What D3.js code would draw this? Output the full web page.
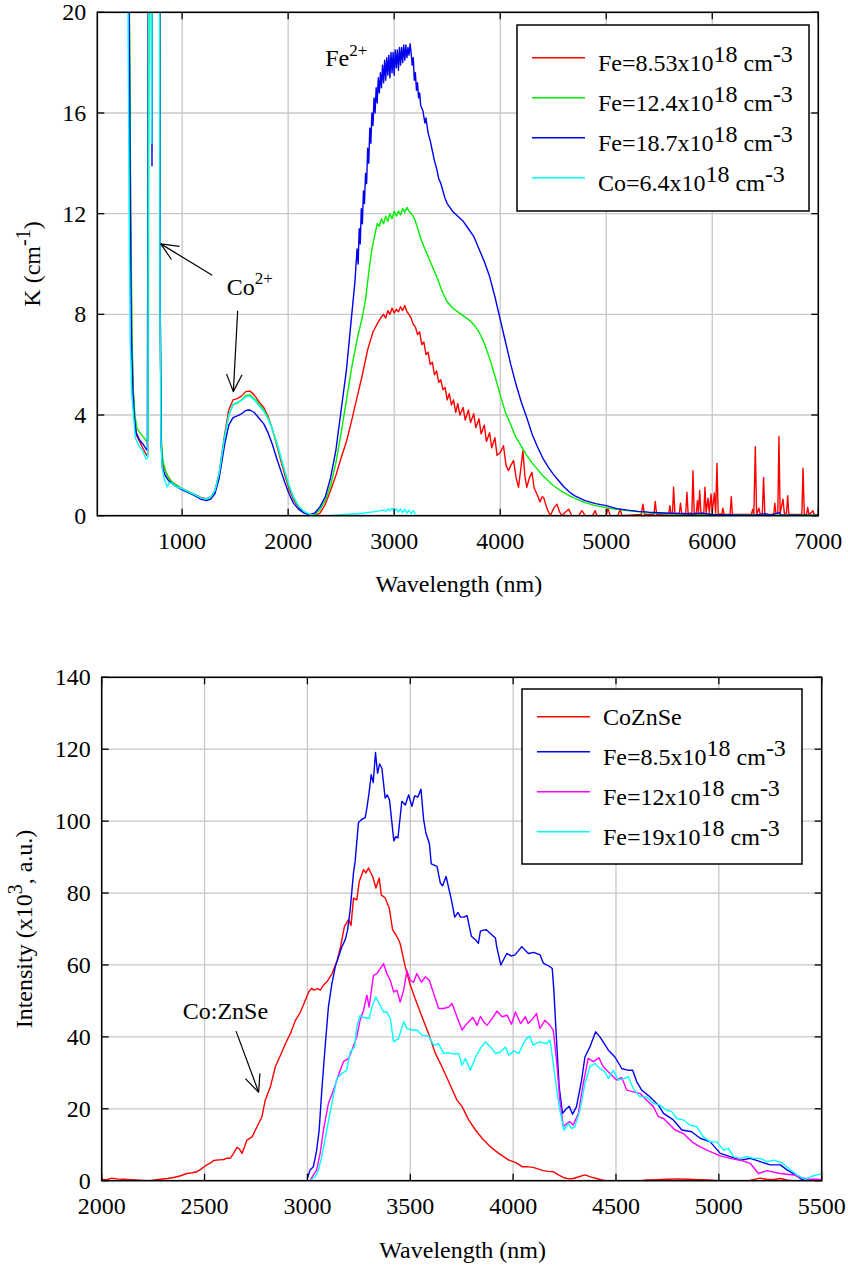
<!DOCTYPE html>
<html>
<head>
<meta charset="utf-8">
<script src="https://cdn.jsdelivr.net/npm/d3@7/dist/d3.min.js"></script>
<style>
html,body{margin:0;padding:0;background:#fff;}
svg{display:block;}
svg text{font-family:"Liberation Serif","DejaVu Serif","Noto Serif","Times New Roman",serif;}
</style>
</head>
<body>
<svg id="chart" width="848" height="1268"></svg>
<script>
// ---------------- DATA: top panel (absorption K, cm^-1 vs wavelength nm) ----------------
const topXTicks = [1000, 2000, 3000, 4000, 5000, 6000, 7000];
const topYTicks = [0, 4, 8, 12, 16, 20];

const absFe853 = [[480,30],[502,20],[514,12],[525,7],[538,5],[552,3.9],[570,3.2],[610,2.85],[640,2.6],[665,2.4],[676,2.45],[686,30],[786,30],[794,8],[802,3.0],[815,2.1],[825,1.95],[835,1.85],[860,1.6],[900,1.35],[1000,1.07],
[1100,0.88],[1180,0.72],[1230,0.68],[1270,0.75],[1310,1.0],[1350,1.7],[1400,3.2],[1440,4.2],[1480,4.6],[1520,4.65],[1560,4.75],[1600,4.93],[1640,4.95],[1680,4.8],[1720,4.55],[1770,4.3],[1810,3.95],[1850,3.45],[1890,2.85],[1930,2.2],[1970,1.6],[2010,1.05],[2050,0.65],[2100,0.32],[2150,0.13],[2200,0.04],[2250,0.0],
[2300,0.1],[2350,0.45],[2400,1.0],[2450,1.6],[2500,2.3],[2550,2.95],[2600,3.8],[2650,4.7],[2700,5.6],[2750,6.6],[2800,7.3],[2850,7.7],[2880,7.9],[2900,8.0],[2920,7.85],[2940,8.15],[2960,8.0],[2980,8.25],[3000,8.05],[3020,8.2],[3040,8.1],[3060,8.3],[3080,8.15],[3100,8.35],[3120,8.1],[3140,8.0],[3160,7.85],[3180,7.6],[3200,7.5],[3220,7.2],[3240,7.3],[3260,6.8],[3280,6.9],[3300,6.4],[3320,6.5],[3340,6.0],[3360,6.1],[3380,5.6],[3400,5.75],[3420,5.3],[3440,5.4],[3460,5.0],[3480,5.1],[3500,4.6],[3520,4.85],[3540,4.4],[3560,4.6],[3580,4.1],[3600,4.45],[3620,4.0],[3650,4.3],[3670,3.8],[3700,4.2],[3720,3.7],[3750,4.05],[3770,3.5],[3800,3.85],[3820,3.25],[3850,3.6],[3870,2.95],[3900,3.3],[3920,2.7],[3950,3.1],[3970,2.4],[4000,2.5],[4031,2.78],[4055,2.0],[4078,1.79],[4100,2.0],[4126,2.19],[4150,1.5],[4173,1.13],[4195,1.9],[4214,2.58],[4232,1.6],[4251,1.13],[4275,1.5],[4299,1.72],[4320,1.1],[4346,0.86],[4375,0.55],[4395,0.75],[4409,0.73],[4440,0.3],[4472,0.0],[4505,0.3],[4535,0.46],[4560,0.15],[4582,0.0],[4615,0.15],[4645,0.26],[4676,0.0],[4740,0.0],[4770,0.2],[4802,0.0],[4870,0.0],[4896,0.2],[4912,0.0],[5000,0.0],[5016,0.29],[5038,0.0],[5110,0.0],[5132,0.26],[5148,0.0],[5330,0.05],[5346,0.46],[5360,0.05],[5450,0.05],[5462,0.57],[5475,0.05],[5590,0.08],[5600,0.4],[5612,0.06],[5625,0.08],[5635,1.13],[5648,0.08],[5690,0.1],[5700,0.5],[5712,0.08],[5750,0.1],[5761,0.93],[5772,0.1],[5808,0.1],[5818,1.79],[5830,0.1],[5850,0.1],[5860,0.6],[5870,0.1],[5881,1.0],[5893,0.1],[5920,0.1],[5931,1.13],[5942,0.12],[5960,0.7],[5972,0.1],[5988,0.86],[6000,0.15],[6020,0.9],[6032,0.1],[6044,2.08],[6056,0.08],[6090,0.06],[6100,0.3],[6112,0.05],[6168,0.05],[6179,0.75],[6190,0.05],[6370,0.05],[6380,0.25],[6392,0.05],[6406,2.74],[6418,0.05],[6440,0.3],[6452,0.05],[6472,0.06],[6484,1.52],[6496,0.05],[6580,0.05],[6590,0.5],[6600,0.1],[6618,0.08],[6629,3.15],[6640,0.1],[6667,0.66],[6680,0.08],[6700,0.1],[6711,0.79],[6722,0.05],[6845,0.05],[6856,1.89],[6868,0.05],[6890,0.06],[6900,0.33],[6912,0.04],[6950,0.2],[6962,0.03],[7000,0.03]];

const absFe124 = [[480,30],[503,20],[516,12],[528,7],[540,5],[555,4.0],[575,3.45],[610,3.25],[640,3.1],[665,2.95],[680,3.0],[692,30],[702,30],[712,17.4],[722,30],[786,30],[794,8],[802,3.2],[815,2.3],[830,2.0],[850,1.7],[880,1.45],[930,1.25],[1000,1.08],
[1100,0.88],[1180,0.7],[1230,0.66],[1270,0.73],[1310,0.98],[1350,1.65],[1400,3.1],[1440,4.0],[1480,4.4],[1520,4.47],[1560,4.6],[1600,4.78],[1640,4.8],[1680,4.65],[1720,4.45],[1770,4.2],[1810,3.9],[1850,3.45],[1890,2.9],[1930,2.3],[1970,1.7],[2010,1.15],[2050,0.72],[2100,0.36],[2150,0.15],[2200,0.05],[2250,0.03],
[2300,0.25],[2350,0.6],[2400,1.2],[2450,2.1],[2500,3.3],[2550,4.6],[2600,5.9],[2650,7.0],[2700,7.9],[2730,8.6],[2750,9.3],[2770,10.0],[2790,10.6],[2810,11.0],[2830,11.4],[2840,11.6],[2860,11.5],[2880,11.8],[2900,11.6],[2920,11.9],[2940,11.7],[2960,12.0],[2980,11.8],[3000,12.1],[3020,11.9],[3040,12.1],[3060,11.95],[3080,12.2],[3100,12.05],[3120,12.25],[3140,12.1],[3160,12.0],[3180,11.9],[3200,11.7],[3230,11.3],[3260,10.9],[3290,10.6],[3320,10.3],[3350,10.0],[3380,9.7],[3410,9.4],[3440,9.05],[3470,8.75],[3500,8.5],[3550,8.25],[3600,8.1],[3650,7.95],[3700,7.8],[3750,7.6],[3800,7.3],[3850,6.85],[3900,6.25],[3950,5.55],[4000,4.8],[4050,4.1],[4100,3.6],[4150,3.1],[4200,2.75],[4250,2.4],[4300,2.1],[4350,1.85],[4400,1.6],[4450,1.4],[4500,1.2],[4550,1.05],[4600,0.92],[4650,0.8],[4700,0.7],[4800,0.52],[4900,0.4],[5000,0.32],[5100,0.25],[5200,0.2],[5400,0.12],[5600,0.08],[5800,0.06],[6000,0.05],[6300,0.03],[6600,0.03],[7000,0.02]];

const absFe187 = [[480,30],[500,20],[512,12],[522,7],[535,5],[548,4.0],[565,3.3],[600,3.0],[630,2.85],[660,2.65],[672,2.6],[684,30],[706,30],[716,13.9],[724,30],[786,30],[794,8],[802,2.8],[815,1.9],[840,1.6],[870,1.4],[930,1.2],[1000,1.03],
[1100,0.84],[1180,0.65],[1230,0.6],[1270,0.66],[1310,0.88],[1350,1.5],[1400,2.8],[1440,3.6],[1480,3.9],[1520,3.97],[1560,4.05],[1600,4.18],[1640,4.2],[1680,4.1],[1720,3.9],[1770,3.65],[1810,3.3],[1850,2.85],[1890,2.3],[1930,1.8],[1970,1.3],[2010,0.85],[2050,0.5],[2100,0.25],[2150,0.1],[2200,0.04],[2250,0.1],
[2300,0.35],[2350,0.75],[2400,1.5],[2450,2.6],[2500,4.2],[2550,5.8],[2600,8.0],[2630,9.3],[2650,10.6],[2660,10.0],[2670,11.4],[2680,10.8],[2690,12.2],[2700,11.6],[2710,12.9],[2720,12.4],[2730,13.6],[2740,13.2],[2750,14.6],[2760,14.0],[2770,15.4],[2780,14.8],[2790,16.0],[2800,15.5],[2810,16.6],[2820,16.0],[2830,17.0],[2840,16.4],[2850,17.4],[2860,16.8],[2870,17.6],[2880,17.0],[2890,17.9],[2900,17.2],[2910,18.1],[2920,17.3],[2930,18.2],[2940,17.5],[2950,18.3],[2960,17.4],[2970,18.4],[2980,17.6],[2990,18.4],[3000,17.5],[3010,18.5],[3020,17.8],[3030,18.5],[3040,17.7],[3050,18.6],[3060,17.9],[3070,18.6],[3080,18.0],[3090,18.7],[3100,18.1],[3110,18.7],[3120,18.2],[3130,18.6],[3140,18.3],[3150,18.75],[3160,18.4],[3170,17.9],[3180,18.2],[3190,17.3],[3200,17.6],[3210,16.9],[3220,17.2],[3230,16.6],[3240,16.8],[3250,16.3],[3270,16.1],[3290,15.6],[3300,15.8],[3320,15.2],[3340,14.9],[3360,14.5],[3380,14.1],[3400,13.8],[3420,13.4],[3440,13.2],[3460,12.9],[3480,12.6],[3500,12.4],[3550,12.1],[3600,11.9],[3650,11.7],[3700,11.4],[3750,11.1],[3800,10.6],[3850,10.1],[3900,9.5],[3950,8.7],[4000,7.8],[4050,6.9],[4100,6.0],[4150,5.2],[4200,4.5],[4250,3.9],[4300,3.25],[4350,2.75],[4400,2.3],[4450,1.95],[4500,1.65],[4550,1.4],[4600,1.15],[4650,0.95],[4700,0.8],[4750,0.7],[4800,0.6],[4900,0.48],[5000,0.4],[5100,0.28],[5200,0.22],[5300,0.17],[5400,0.14],[5500,0.12],[5600,0.1],[5800,0.07],[5900,0.1],[6000,0.05],[6200,0.03],[6400,0.02],[6500,0.08],[6550,0.02],[6630,0.12],[6650,0.02],[6800,0.02],[7000,0.01]];

const absCo64 = [[470,30],[490,20],[500,12],[510,7],[525,4.8],[543,3.9],[558,3.1],[590,2.8],[630,2.55],[660,2.25],[676,2.3],[688,30],[704,30],[714,14.8],[722,30],[784,30],[792,8],[800,3.0],[812,1.9],[830,1.5],[850,1.25],[862,1.15],[875,1.3],[900,1.3],[950,1.15],[1000,1.07],
[1100,0.87],[1180,0.7],[1230,0.67],[1270,0.74],[1310,1.0],[1350,1.68],[1400,3.1],[1440,4.0],[1480,4.42],[1520,4.5],[1560,4.58],[1600,4.72],[1640,4.75],[1680,4.6],[1720,4.4],[1770,4.15],[1810,3.85],[1850,3.45],[1890,2.95],[1930,2.35],[1970,1.75],[2010,1.2],[2050,0.75],[2100,0.38],[2150,0.17],[2200,0.06],[2250,0.02],
[2300,0.0],[2400,0.01],[2500,0.04],[2600,0.07],[2700,0.1],[2800,0.15],[2850,0.18],[2900,0.22],[2920,0.18],[2940,0.27],[2960,0.2],[2980,0.3],[3000,0.2],[3020,0.28],[3040,0.15],[3060,0.27],[3080,0.12],[3100,0.25],[3120,0.1],[3140,0.22],[3160,0.08],[3180,0.2],[3200,0.05]];

// ---------------- DATA: bottom panel (intensity x10^3 vs wavelength nm) ----------------
const botXTicks = [2000, 2500, 3000, 3500, 4000, 4500, 5000, 5500];
const botYTicks = [0, 20, 40, 60, 80, 100, 120, 140];

const plCoZnSe = [[2000,0.4],[2020,0.2],[2049,0.7],[2075,0.5],[2105,0.4],[2140,0.3],[2170,0.2],[2200,0.1],[2235,0],[2260,0.2],[2284,0.4],[2320,0.6],[2349,0.9],[2380,1.3],[2414,2.0],[2440,2.2],[2463,2.5],[2485,3.3],[2503,4.1],[2525,4.8],[2544,5.6],[2570,5.8],[2593,5.9],[2610,6.3],[2625,6.2],[2641,7.6],[2658,9.3],[2670,8.8],[2682,7.6],[2695,9.5],[2706,11.3],[2731,12.2],[2755,15],[2779,17.8],[2795,22.4],[2820,26.1],[2844,31.7],[2869,34.9],[2893,38.1],[2917,40.9],[2942,44.6],[2966,46.9],[2990,50.2],[3006,52.5],[3020,53.5],[3031,53],[3050,53.4],[3063,53],[3080,54.5],[3096,55.4],[3120,57.6],[3145,61.3],[3161,65],[3180,70.7],[3200,72.6],[3212,71],[3224,78.6],[3240,78.1],[3252,83.2],[3273,86.5],[3284,85.6],[3297,87],[3305,86],[3317,84.6],[3333,81.4],[3349,84.2],[3359,79.5],[3378,78.6],[3398,75.8],[3414,69.8],[3430,68.4],[3443,67],[3451,65.9],[3476,59.4],[3500,54.4],[3524,50.6],[3557,45.6],[3589,40.9],[3622,35.4],[3654,31.7],[3687,27.5],[3727,22.4],[3752,20.6],[3784,16.9],[3817,14.1],[3849,11.8],[3890,9.4],[3930,7.6],[3979,5.7],[4011,5.1],[4044,3.9],[4065,3.9],[4097,3.7],[4120,3.3],[4146,2.8],[4170,2.6],[4195,2.5],[4220,1.6],[4244,0.9],[4270,0.5],[4292,0.6],[4320,1.1],[4349,1.6],[4380,1.0],[4406,0.6],[4430,0.2],[4454,0],[4500,0],[4560,0],[4620,0],[4650,0.2],[4700,0.3],[4750,0.4],[4800,0.5],[4850,0.4],[4900,0.3],[4950,0.2],[5000,0],[5100,0],[5150,0.1],[5200,0.7],[5230,0.4],[5260,0.3],[5300,0.6],[5330,0.2],[5360,0]];

const plFe85 = [[3000,0.6],[3013,3],[3029,3.9],[3045,8.5],[3057,14],[3070,25.2],[3086,37.2],[3102,48.3],[3119,54.8],[3135,59.4],[3151,62.2],[3167,65],[3183,66.9],[3195,69.6],[3208,75.4],[3224,85.6],[3232,88.8],[3248,99.6],[3265,100.5],[3281,101],[3289,103.6],[3300,108],[3310,112.9],[3320,110.7],[3331,119.1],[3341,113.3],[3351,115.9],[3362,114.7],[3378,106.4],[3388,107.3],[3399,105.9],[3410,100],[3420,94.5],[3430,95.7],[3440,95.3],[3459,105.5],[3476,104.5],[3492,107.3],[3508,104.1],[3521,107],[3537,106.7],[3552,108.9],[3565,100.4],[3576,96.7],[3593,93.7],[3602,88.1],[3630,87.4],[3646,82.8],[3657,82],[3674,84.6],[3700,78.1],[3716,73.3],[3732,74.6],[3744,73.3],[3760,73.3],[3776,73.7],[3797,68],[3817,67],[3831,66],[3841,69.4],[3855,69.7],[3870,69.8],[3888,68.8],[3914,67.5],[3920,65.1],[3940,60],[3969,63.2],[3990,62.5],[4009,62.8],[4042,65.1],[4074,63.2],[4100,63.5],[4131,62.8],[4147,60.5],[4179,59.5],[4190,59],[4198,53],[4211,39],[4224,26],[4240,18.7],[4260,20.1],[4273,20.7],[4289,18.5],[4308,20.6],[4333,28],[4349,34.4],[4373,37.2],[4401,41.4],[4422,40],[4463,36.3],[4495,34.4],[4528,31.2],[4560,30.7],[4581,30.7],[4601,27.5],[4625,25.2],[4666,23.3],[4706,21],[4731,18.7],[4779,16.9],[4820,14.1],[4868,13.6],[4909,11.8],[4958,10.8],[5007,7.6],[5055,6.7],[5104,5.7],[5153,6.2],[5201,5.3],[5250,4.4],[5299,4.4],[5331,3],[5372,1.6],[5396,0.6],[5420,0]];

const plFe12 = [[3013,0],[3029,1.6],[3045,3],[3062,7.6],[3078,14.1],[3102,21.5],[3127,25.2],[3151,29.4],[3175,33.1],[3200,34],[3216,36.3],[3240,40],[3256,44.6],[3273,47.4],[3289,51.6],[3300,48.3],[3321,57.1],[3338,57.6],[3354,59],[3370,60.4],[3386,57.6],[3403,55.7],[3419,52.5],[3435,53],[3451,49.7],[3468,53],[3484,58.5],[3500,55.7],[3516,55.2],[3532,57.6],[3554,55.2],[3573,56.7],[3593,55.7],[3614,52],[3638,47.9],[3662,47.9],[3687,48.3],[3703,49.3],[3727,45.6],[3752,41.9],[3768,43.2],[3784,44.2],[3804,45.4],[3825,43.2],[3841,45.7],[3857,44.2],[3873,43.2],[3898,45.1],[3922,47.2],[3946,45.6],[3971,46],[3992,43.5],[4011,46.9],[4036,43.7],[4060,45.6],[4073,43.7],[4095,45],[4114,46.5],[4130,42.3],[4154,44.6],[4179,43.2],[4195,41.9],[4211,33.5],[4227,22.4],[4244,15],[4260,15.9],[4276,16.4],[4292,15.5],[4317,18.7],[4341,27],[4365,34],[4390,33.1],[4417,34.2],[4438,31.7],[4471,29.8],[4503,28],[4528,28.7],[4552,25.2],[4584,24.7],[4617,24.3],[4649,22.4],[4682,20.6],[4706,17.8],[4731,17.3],[4763,15.5],[4787,14.1],[4828,13.1],[4869,10.8],[4909,9.4],[4958,8.1],[5007,6.9],[5055,6.2],[5104,5.7],[5153,4.8],[5193,2],[5234,2.8],[5299,2],[5364,1.6],[5396,0.9],[5437,0.4],[5477,0.4],[5500,0.3]];

const plFe19 = [[3013,0],[3037,1.1],[3054,3],[3070,6.7],[3094,14.1],[3119,21.5],[3143,28.4],[3167,29.8],[3191,30.7],[3208,35.8],[3229,37.2],[3240,42.8],[3256,46],[3273,45.4],[3300,45.1],[3316,48.8],[3333,51.1],[3354,48.8],[3370,46.9],[3386,46.9],[3403,45.1],[3419,38.6],[3443,39.5],[3468,44.2],[3484,42.3],[3508,41.9],[3532,41.9],[3557,40.5],[3589,40.2],[3614,37.7],[3638,38.1],[3662,35.4],[3687,35.6],[3711,35.2],[3735,35.4],[3752,32.1],[3768,34],[3792,30.7],[3817,34.4],[3841,36.8],[3865,38.6],[3890,37.2],[3914,35.4],[3938,35.8],[3963,37.2],[3979,34.9],[4003,36.1],[4028,35.4],[4049,38.1],[4065,39.5],[4081,40.2],[4097,37.7],[4130,38.6],[4162,38.1],[4179,39.1],[4191,34.4],[4208,27],[4224,20.6],[4247,14.1],[4268,15.9],[4284,14.5],[4300,15],[4325,19.6],[4349,27],[4373,31.7],[4398,32.6],[4422,31.2],[4446,30.3],[4463,28.4],[4487,30.7],[4511,28],[4536,28.4],[4560,28.9],[4584,25.6],[4617,23.3],[4649,23.3],[4682,21.5],[4714,21],[4747,19.6],[4771,19.2],[4795,17.3],[4828,16.9],[4860,15.5],[4893,15],[4925,12.2],[4958,10.8],[4990,10.8],[5023,8.5],[5047,9],[5071,6.7],[5104,6.2],[5136,6.7],[5169,6.2],[5201,6.2],[5234,5.3],[5266,5.7],[5307,5],[5348,3],[5380,1.6],[5420,0.4],[5453,1.3],[5500,1.9]];

// legend labels: [main, sup, main, sup]
const topLegend = [
  {data: absFe853, color: "#ff0000", parts: ["Fe=8.53x10", "18", " cm", "-3"]},
  {data: absFe124, color: "#00ee00", parts: ["Fe=12.4x10", "18", " cm", "-3"]},
  {data: absFe187, color: "#0000ee", parts: ["Fe=18.7x10", "18", " cm", "-3"]},
  {data: absCo64,  color: "#00ffff", parts: ["Co=6.4x10", "18", " cm", "-3"]}
];
const botLegend = [
  {data: plCoZnSe, color: "#ff0000", parts: ["CoZnSe"]},
  {data: plFe85,   color: "#0000ee", parts: ["Fe=8.5x10", "18", " cm", "-3"]},
  {data: plFe12,   color: "#ff00ff", parts: ["Fe=12x10", "18", " cm", "-3"]},
  {data: plFe19,   color: "#00ffff", parts: ["Fe=19x10", "18", " cm", "-3"]}
];

// ---------------- DRAWING ----------------
const FONT = "Liberation Serif, DejaVu Serif, Noto Serif, serif";
const svg = d3.select("#chart");
svg.append("rect").attr("width", 848).attr("height", 1268).attr("fill", "#fff");

function richText(sel, parts, supSize, supRise) {
  parts.forEach((p, i) => {
    const isSup = i % 2 === 1;
    const t = sel.append("tspan").text(p);
    if (isSup) t.attr("font-size", supSize).attr("dy", -supRise);
    else if (i > 0) t.attr("dy", supRise);
  });
}

function panel(o) {
  const g = svg.append("g");
  const x = d3.scaleLinear().domain(o.xDomain).range([o.left, o.right]);
  const y = d3.scaleLinear().domain(o.yDomain).range([o.bottom, o.top]);

  g.append("g").selectAll("line").data(o.xTicks.filter(v => v > o.xDomain[0] && v < o.xDomain[1]))
    .join("line").attr("x1", d => x(d)).attr("x2", d => x(d)).attr("y1", o.top).attr("y2", o.bottom)
    .attr("stroke", "#c8c8c8").attr("stroke-width", 1.3);
  g.append("g").selectAll("line").data(o.yTicks.filter(v => v > o.yDomain[0] && v < o.yDomain[1]))
    .join("line").attr("y1", d => y(d)).attr("y2", d => y(d)).attr("x1", o.left).attr("x2", o.right)
    .attr("stroke", "#c8c8c8").attr("stroke-width", 1.3);

  const cid = "clip" + o.id;
  svg.append("clipPath").attr("id", cid).append("rect")
    .attr("x", o.left).attr("y", o.top).attr("width", o.right - o.left).attr("height", o.bottom - o.top);

  const line = d3.line().x(d => x(d[0])).y(d => y(d[1]));
  const lg = g.append("g").attr("clip-path", `url(#${cid})`);
  o.series.forEach(s => {
    lg.append("path").datum(s.data).attr("d", line).attr("fill", "none")
      .attr("stroke", s.color).attr("stroke-width", 1.4).attr("stroke-linejoin", "round");
  });

  const tk = g.append("g").attr("stroke", "#000").attr("stroke-width", 1.3);
  o.xTicks.forEach(v => {
    tk.append("line").attr("x1", x(v)).attr("x2", x(v)).attr("y1", o.bottom).attr("y2", o.bottom - 7);
    tk.append("line").attr("x1", x(v)).attr("x2", x(v)).attr("y1", o.top).attr("y2", o.top + 7);
  });
  o.yTicks.forEach(v => {
    tk.append("line").attr("y1", y(v)).attr("y2", y(v)).attr("x1", o.left).attr("x2", o.left + 7);
    tk.append("line").attr("y1", y(v)).attr("y2", y(v)).attr("x1", o.right).attr("x2", o.right - 7);
  });

  g.append("rect").attr("x", o.left).attr("y", o.top).attr("width", o.right - o.left).attr("height", o.bottom - o.top)
    .attr("fill", "none").attr("stroke", "#000").attr("stroke-width", 1.6);

  g.append("g").selectAll("text").data(o.xTicks).join("text")
    .attr("x", d => x(d)).attr("y", o.bottom + 33).attr("text-anchor", "middle")
    .attr("font-family", FONT).attr("font-size", 24).text(d => d);
  g.append("g").selectAll("text").data(o.yTicks).join("text")
    .attr("x", o.left - 11).attr("y", d => y(d) + 8).attr("text-anchor", "end")
    .attr("font-family", FONT).attr("font-size", 24).text(d => d);

  g.append("text").attr("x", (o.left + o.right) / 2 + 1).attr("y", o.xTitleY).attr("text-anchor", "middle")
    .attr("font-family", FONT).attr("font-size", 24).text("Wavelength (nm)");
  const yt = g.append("text").attr("transform", `translate(${o.yTitleX},${(o.top + o.bottom) / 2}) rotate(-90)`)
    .attr("text-anchor", "middle").attr("font-family", FONT).attr("font-size", 24);
  richText(yt, o.yTitle, 20, 10);

  const L = o.legend;
  g.append("rect").attr("x", L.x).attr("y", L.y).attr("width", L.w).attr("height", L.h)
    .attr("fill", "#fff").attr("stroke", "#000").attr("stroke-width", 1.5);
  o.series.forEach((s, i) => {
    const ly = L.rowY[i];
    g.append("line").attr("x1", L.x + 15).attr("x2", L.x + 68).attr("y1", ly).attr("y2", ly)
      .attr("stroke", s.color).attr("stroke-width", 1.6);
    const t = g.append("text").attr("x", L.x + 81).attr("y", ly + (s.parts.length > 1 ? 13 : 8.5))
      .attr("font-family", FONT).attr("font-size", 24);
    richText(t, s.parts, 24, 9);
  });
  return {x, y, g};
}

function arrow(g, x1, y1, x2, y2) {
  const ang = Math.atan2(y2 - y1, x2 - x1);
  const L = 19, a = 0.42;
  g.append("line").attr("x1", x1).attr("y1", y1).attr("x2", x2).attr("y2", y2)
    .attr("stroke", "#000").attr("stroke-width", 1.2);
  [ -a, a ].forEach(da => {
    g.append("line").attr("x1", x2).attr("y1", y2)
      .attr("x2", x2 - L * Math.cos(ang + da)).attr("y2", y2 - L * Math.sin(ang + da))
      .attr("stroke", "#000").attr("stroke-width", 1.2);
  });
}

const P1 = panel({
  id: 1, left: 97.3, right: 818.3, top: 12.3, bottom: 515.7,
  xDomain: [200, 7000], yDomain: [0, 20], xTicks: topXTicks, yTicks: topYTicks,
  series: topLegend, xTitleY: 592, yTitleX: 40, yTitle: ["K (cm", "-1", ")"],
  legend: {x: 517, y: 25, w: 292, h: 186, rowY: [57.7, 97.7, 137.7, 177.7]}
});
{
  const {x, y, g} = P1;
  const fe = g.append("text").attr("x", x(2350)).attr("y", y(17.87)).attr("font-family", FONT).attr("font-size", 24);
  richText(fe, ["Fe", "2+"], 17, 10);
  const co = g.append("text").attr("x", x(1420)).attr("y", y(8.77)).attr("font-family", FONT).attr("font-size", 24);
  richText(co, ["Co", "2+"], 17, 11);
  arrow(g, x(1284), y(9.55), x(798), y(10.8));
  arrow(g, x(1524), y(8.14), x(1483), y(4.93));
}

const P2 = panel({
  id: 2, left: 101.7, right: 821.7, top: 677.3, bottom: 1180.7,
  xDomain: [2000, 5500], yDomain: [0, 140], xTicks: botXTicks, yTicks: botYTicks,
  series: botLegend, xTitleY: 1258, yTitleX: 32, yTitle: ["Intensity (x10", "3", ", a.u.)"],
  legend: {x: 522, y: 689, w: 280, h: 175, rowY: [716.7, 751.7, 791.7, 831.7]}
});
{
  const {x, y, g} = P2;
  g.append("text").attr("x", x(2394)).attr("y", y(45)).attr("font-family", FONT).attr("font-size", 24).text("Co:ZnSe");
  arrow(g, x(2653), y(41.6), x(2763), y(24.6));
}
</script>
</body>
</html>
